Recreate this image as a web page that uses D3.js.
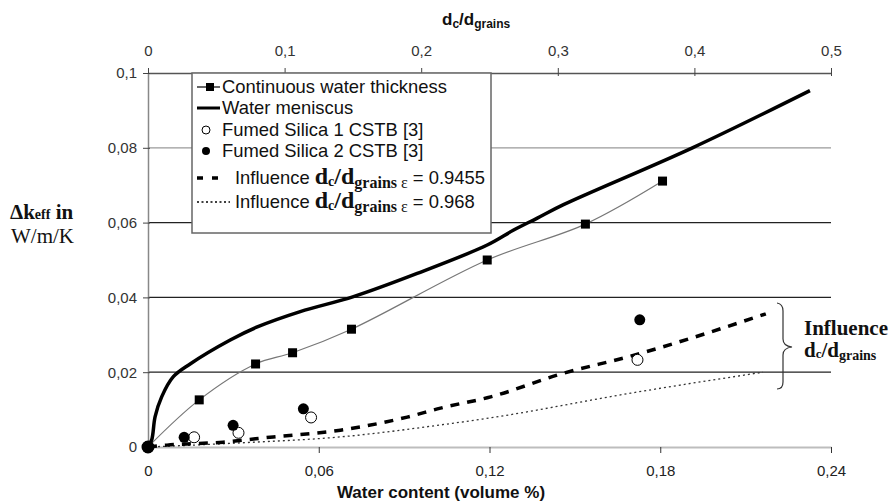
<!DOCTYPE html>
<html>
<head>
<meta charset="utf-8">
<script src="https://cdn.jsdelivr.net/npm/d3@7"></script>
<style>
  body { margin: 0; background: #fff; }
  svg { display: block; }
</style>
</head>
<body>
<script>
// values
var continuousX = [0, 0.018, 0.0378, 0.0508, 0.0715, 0.1192, 0.1537, 0.1808];
var continuousY = [0, 0.0126, 0.0222, 0.0252, 0.0315, 0.05, 0.0596, 0.0711];

var meniscusX = [0, 0.0013, 0.0025, 0.0048, 0.0089, 0.0148, 0.0289, 0.0384, 0.0535, 0.0722, 0.0946, 0.1192, 0.1285, 0.1368, 0.146, 0.1913, 0.2326];
var meniscusY = [0, 0.0019, 0.0081, 0.0134, 0.0188, 0.0222, 0.0286, 0.0321, 0.0362, 0.0402, 0.0464, 0.054, 0.058, 0.0612, 0.0648, 0.08, 0.0953];

var silica1X = [0, 0.0162, 0.0318, 0.0573, 0.172];
var silica1Y = [0, 0.0026, 0.0038, 0.0079, 0.0233];
var silica2X = [0, 0.0127, 0.0299, 0.0546, 0.1728];
var silica2Y = [0, 0.0026, 0.0058, 0.0102, 0.034];

var infl1X = [0, 0.0067, 0.0264, 0.044, 0.0676, 0.0911, 0.1028, 0.1204, 0.145, 0.1696, 0.2171];
var infl1Y = [0, 0.0005, 0.0013, 0.0027, 0.0045, 0.008, 0.0104, 0.0134, 0.0195, 0.0243, 0.0356];
var infl2X = [0, 0.0324, 0.0676, 0.1028, 0.1204, 0.1696, 0.2161];
var infl2Y = [0, 0.0011, 0.0027, 0.0059, 0.0078, 0.0144, 0.02];

var xTicks = [0, 0.06, 0.12, 0.18, 0.24];
var yTicks = [0, 0.02, 0.04, 0.06, 0.08, 0.1];
var topTicks = [0, 0.1, 0.2, 0.3, 0.4, 0.5];

var zip = function(xs, ys) {
  return xs.map(function(x, i) { return [x, ys[i]]; });
}

var main = function() {
  var width = 893, height = 504;
  var left = 148, right = 831, top = 73, bottom = 447;

  var svg = d3.select("body")
    .append("svg")
    .attr("width", width)
    .attr("height", height)
    .style("font-family", "'Liberation Sans', Arial, sans-serif");

  var x = d3.scaleLinear().domain([0, 0.24]).range([left, right]);
  var xTop = d3.scaleLinear().domain([0, 0.5]).range([left, right]);
  var y = d3.scaleLinear().domain([0, 0.1]).range([bottom, top]);

  var fmt = d3.formatLocale({decimal: ",", thousands: ".", grouping: [3], currency: ["", ""]}).format("~g");

  // grid lines
  svg.append("g").selectAll("line")
    .data([0.02, 0.04, 0.06, 0.08])
    .enter()
    .append("line")
    .attr("x1", left).attr("x2", right)
    .attr("y1", function(d) { return y(d); })
    .attr("y2", function(d) { return y(d); })
    .attr("stroke", function(d) { return d == 0.08 ? "#9a9a9a" : "#222"; })
    .attr("stroke-width", 1.2);

  // axes
  var gTop = svg.append("g")
    .attr("transform", "translate(0," + top + ")")
    .call(d3.axisTop(xTop).tickValues(topTicks).tickFormat(fmt).tickSizeOuter(0).tickSizeInner(5).tickPadding(12));
  gTop.select(".domain").attr("stroke", "#555").attr("stroke-width", 1.3);
  gTop.selectAll(".tick line").attr("y1", 3).attr("y2", -5).attr("stroke", "#444");
  gTop.selectAll(".tick text").attr("font-size", 15).attr("fill", "#333").attr("font-family", null);

  var gBot = svg.append("g")
    .attr("transform", "translate(0," + bottom + ")")
    .call(d3.axisBottom(x).tickValues(xTicks).tickFormat(fmt).tickSizeOuter(0).tickSizeInner(6).tickPadding(12));
  gBot.select(".domain").attr("stroke", "#bdbdbd").attr("stroke-width", 2.2);
  gBot.selectAll(".tick line").attr("stroke", "#333");
  gBot.selectAll(".tick text").attr("font-size", 15).attr("fill", "#222").attr("font-family", null);

  var gLeft = svg.append("g")
    .attr("transform", "translate(" + left + ",0)")
    .call(d3.axisLeft(y).tickValues(yTicks).tickFormat(fmt).tickSizeOuter(0).tickSizeInner(5).tickPadding(6));
  gLeft.select(".domain").attr("stroke", "#888").attr("stroke-width", 1.5);
  gLeft.selectAll(".tick line").attr("x2", -5).attr("x1", 2).attr("stroke", "#444");
  gLeft.selectAll(".tick text").attr("font-size", 15).attr("fill", "#333").attr("font-family", null);

  // legend box (behind curves, over grid)
  var lg = svg.append("g");
  lg.append("rect")
    .attr("x", 192).attr("y", top)
    .attr("width", 299).attr("height", 160)
    .attr("fill", "#fff")
    .attr("stroke", "#666")
    .attr("stroke-width", 1.5);

  var line = d3.line()
    .x(function(d) { return x(d[0]); })
    .y(function(d) { return y(d[1]); })
    .curve(d3.curveMonotoneX);

  var smooth = d3.line()
    .x(function(d) { return x(d[0]); })
    .y(function(d) { return y(d[1]); })
    .curve(d3.curveCatmullRom.alpha(0.5));

  // influence eps = 0.968 (dotted)
  svg.append("path")
    .attr("d", line(zip(infl2X, infl2Y)))
    .attr("fill", "none")
    .attr("stroke", "#333")
    .attr("stroke-width", 1.3)
    .attr("stroke-dasharray", "2,3");

  // influence eps = 0.9455 (dashed)
  svg.append("path")
    .attr("d", line(zip(infl1X, infl1Y)))
    .attr("fill", "none")
    .attr("stroke", "#000")
    .attr("stroke-width", 3.5)
    .attr("stroke-dasharray", "9,8");

  // continuous water thickness
  var cont = zip(continuousX, continuousY);
  svg.append("path")
    .attr("d", smooth(cont))
    .attr("fill", "none")
    .attr("stroke", "#777")
    .attr("stroke-width", 1.2);
  svg.append("g").selectAll("rect")
    .data(cont.slice(1))
    .enter()
    .append("rect")
    .attr("x", function(d) { return x(d[0]) - 4.5; })
    .attr("y", function(d) { return y(d[1]) - 4.5; })
    .attr("width", 9).attr("height", 9)
    .attr("fill", "#000");

  // water meniscus
  svg.append("path")
    .attr("d", smooth(zip(meniscusX, meniscusY)))
    .attr("fill", "none")
    .attr("stroke", "#000")
    .attr("stroke-width", 3.5)
    .attr("stroke-linejoin", "round");

  // fumed silica points
  svg.append("g").selectAll("circle")
    .data(zip(silica1X, silica1Y))
    .enter()
    .append("circle")
    .attr("cx", function(d) { return x(d[0]); })
    .attr("cy", function(d) { return y(d[1]); })
    .attr("r", 5.5)
    .attr("fill", "#fff")
    .attr("stroke", "#000")
    .attr("stroke-width", 1);
  svg.append("g").selectAll("circle")
    .data(zip(silica2X, silica2Y))
    .enter()
    .append("circle")
    .attr("cx", function(d) { return x(d[0]); })
    .attr("cy", function(d) { return y(d[1]); })
    .attr("r", function(d, i) { return i == 0 ? 6.5 : 5.5; })
    .attr("fill", "#000");

  // legend entries
  lg = svg.append("g");
  lg.append("line").attr("x1", 197).attr("x2", 220).attr("y1", 87).attr("y2", 87).attr("stroke", "#000").attr("stroke-width", 1.2);
  lg.append("rect").attr("x", 206).attr("y", 83).attr("width", 8).attr("height", 8).attr("fill", "#000");
  lg.append("line").attr("x1", 197).attr("x2", 220).attr("y1", 108).attr("y2", 108).attr("stroke", "#000").attr("stroke-width", 3);
  lg.append("circle").attr("cx", 206).attr("cy", 130).attr("r", 4).attr("fill", "#fff").attr("stroke", "#000");
  lg.append("circle").attr("cx", 206).attr("cy", 151).attr("r", 4).attr("fill", "#000");
  lg.append("line").attr("x1", 197).attr("x2", 222).attr("y1", 178).attr("y2", 178).attr("stroke", "#000").attr("stroke-width", 3.5).attr("stroke-dasharray", "6,9");
  lg.append("line").attr("x1", 197).attr("x2", 230).attr("y1", 202).attr("y2", 202).attr("stroke", "#000").attr("stroke-width", 1.3).attr("stroke-dasharray", "2,2.5");

  var legendText = ["Continuous water thickness", "Water meniscus", "Fumed Silica 1 CSTB [3]", "Fumed Silica 2 CSTB [3]"];
  var legendBase = [93, 114, 136, 157];
  lg.selectAll("text.lab")
    .data(legendText)
    .enter()
    .append("text")
    .attr("class", "lab")
    .attr("x", 222)
    .attr("y", function(d, i) { return legendBase[i]; })
    .attr("font-size", 18.4)
    .attr("fill", "#111")
    .text(function(d) { return d; });

  var eps = ["0.9455", "0.968"];
  var epsBase = [184, 208];
  eps.forEach(function(e, i) {
    var t = lg.append("text").attr("x", 235).attr("y", epsBase[i]).attr("font-size", 18.4).attr("fill", "#111");
    t.append("tspan").text("Influence ");
    var serif = "'Liberation Serif', 'Times New Roman', serif";
    t.append("tspan").attr("font-family", serif).attr("font-weight", "bold").attr("font-size", 24).text("d");
    t.append("tspan").attr("font-family", serif).attr("font-weight", "bold").attr("font-size", 14).attr("dy", 2).text("c");
    t.append("tspan").attr("font-family", serif).attr("font-weight", "bold").attr("font-size", 24).attr("dy", -2).text("/d");
    t.append("tspan").attr("font-family", serif).attr("font-weight", "bold").attr("font-size", 16).attr("dy", 4).text("grains");
    t.append("tspan").attr("font-family", serif).attr("font-size", 16).text(" \u03b5");
    t.append("tspan").attr("dy", -4).text(" = " + e);
  });

  // axis titles
  var topTitle = svg.append("text").attr("x", 442).attr("y", 25).attr("font-size", 17).attr("font-weight", "bold").attr("fill", "#111");
  topTitle.append("tspan").text("d");
  topTitle.append("tspan").attr("font-size", 12).attr("dy", 3).text("c");
  topTitle.append("tspan").attr("dy", -3).text("/d");
  topTitle.append("tspan").attr("font-size", 12).attr("dy", 3).text("grains");

  svg.append("text")
    .attr("x", 441).attr("y", 498)
    .attr("text-anchor", "middle")
    .attr("font-size", 17)
    .attr("font-weight", "bold")
    .attr("fill", "#111")
    .text("Water content (volume %)");

  var serifF = "'Liberation Serif', 'Times New Roman', serif";
  var yl = svg.append("text").attr("x", 10).attr("y", 219).attr("font-family", serifF).attr("font-size", 21).attr("font-weight", "bold").attr("fill", "#111");
  yl.append("tspan").text("\u0394k");
  yl.append("tspan").attr("font-size", 14).text("eff");
  yl.append("tspan").text(" in");
  svg.append("text").attr("x", 11).attr("y", 243).attr("font-family", serifF).attr("font-size", 21).attr("fill", "#111").text("W/m/K");

  // brace + annotation
  var p = d3.path();
  p.moveTo(777, 303);
  p.quadraticCurveTo(783, 304, 783, 311);
  p.lineTo(783, 339);
  p.quadraticCurveTo(783, 346, 792, 347);
  p.quadraticCurveTo(783, 348, 783, 355);
  p.lineTo(783, 382);
  p.quadraticCurveTo(783, 389, 777, 389);
  svg.append("path").attr("d", p.toString()).attr("fill", "none").attr("stroke", "#333").attr("stroke-width", 1.2);

  svg.append("text").attr("x", 804).attr("y", 335).attr("font-family", serifF).attr("font-size", 21).attr("font-weight", "bold").attr("fill", "#111").text("Influence");
  var an = svg.append("text").attr("x", 804).attr("y", 357).attr("font-family", serifF).attr("font-size", 21).attr("font-weight", "bold").attr("fill", "#111");
  an.append("tspan").text("d");
  an.append("tspan").attr("font-size", 13).attr("dy", 1).text("c");
  an.append("tspan").attr("dy", -1).text("/d");
  an.append("tspan").attr("font-size", 14).attr("dy", 3).text("grains");
}

main();
</script>
</body>
</html>
